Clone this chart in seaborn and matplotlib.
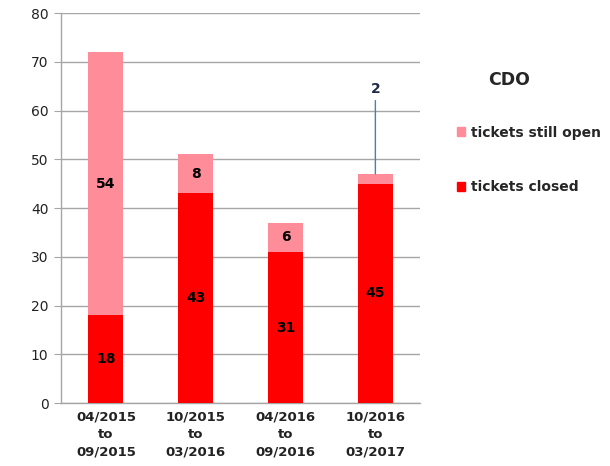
import matplotlib
matplotlib.use("Agg")
import matplotlib.pyplot as plt
import numpy as np
import pandas as pd
import seaborn as sns
from matplotlib.patches import Patch

# values
periods = ["04/2015\nto\n09/2015", "10/2015\nto\n03/2016",
           "04/2016\nto\n09/2016", "10/2016\nto\n03/2017"]
closed = [18, 43, 31, 45]
still_open = [54, 8, 6, 2]
y_ticks = [0, 10, 20, 30, 40, 50, 60, 70, 80]

pink = "#FF8C99"
red = "#FF0000"
grey = "#A6A6A6"

df = pd.DataFrame({"period": periods, "closed": closed, "open": still_open})
df["total"] = df["closed"] + df["open"]

sns.set_style("white")
fig = plt.figure(figsize=(6.1, 4.66), dpi=100)
ax = fig.add_axes([0.1, 0.135, 0.589, 0.837])

sns.barplot(data=df, x="period", y="total", color=pink, width=0.39,
            saturation=1, ax=ax, zorder=2, edgecolor="none", linewidth=0)
open_bars = list(ax.containers[0])
sns.barplot(data=df, x="period", y="closed", color=red, width=0.39,
            saturation=1, ax=ax, zorder=3, edgecolor="none", linewidth=0)
closed_bars = ax.containers[1]

ax.bar_label(closed_bars, labels=[str(v) for v in closed], label_type="center",
             fontsize=10, fontweight="bold", color="black")

# labels for the open part: centred in the segment, the small one called out above
for i, (bar, v) in enumerate(zip(open_bars, still_open)):
    xc = bar.get_x() + bar.get_width() / 2
    if v < 4:
        ax.annotate(str(v), xy=(xc, df["total"][i]), xytext=(xc, df["total"][i] + 16),
                    ha="center", va="bottom", fontsize=10, fontweight="bold",
                    color="#1F2A44",
                    arrowprops=dict(arrowstyle="-", color="#4A7EBB", lw=1,
                                    shrinkA=1, shrinkB=0))
    else:
        ax.text(xc, closed[i] + v / 2, str(v), ha="center", va="center",
                fontsize=10, fontweight="bold", color="black", zorder=4)

ax.set_ylim(0, 80)
ax.set_xlim(-0.5, 3.5)
ax.set_yticks(y_ticks)
ax.set_yticklabels([str(t) for t in y_ticks], fontsize=10, color="#222222")
ax.set_xticks(range(len(periods)))
ax.set_xticklabels(periods, fontsize=9.5, fontweight="bold", color="#222222",
                   linespacing=1.45)
ax.set_xticks([-0.5, 0.5, 1.5, 2.5, 3.5], minor=True)
ax.tick_params(axis="x", which="major", length=0, pad=5)
ax.tick_params(axis="x", which="minor", length=5, color=grey, direction="out")
ax.tick_params(axis="y", length=5, color=grey, direction="out", pad=4, left=True)
ax.set_xlabel("")
ax.set_ylabel("")

ax.yaxis.grid(True, color=grey, lw=1)
ax.set_axisbelow(True)
for side in ["top", "right"]:
    ax.spines[side].set_visible(False)
for side in ["left", "bottom"]:
    ax.spines[side].set_color(grey)
    ax.spines[side].set_linewidth(1)

# legend area
fig.text(0.835, 0.828, "CDO", fontsize=12.5, fontweight="bold", ha="center",
         va="center")
handles = [Patch(color=pink, label="tickets still open"),
           Patch(color=red, label="tickets closed")]
fig.legend(handles=handles, loc="upper left", bbox_to_anchor=(0.738, 0.745),
           frameon=False, prop=dict(size=10, weight="bold"),
           handlelength=0.6, handleheight=0.6, handletextpad=0.4,
           labelspacing=2.9, borderpad=0)

fig.savefig("out.png", dpi=100)
